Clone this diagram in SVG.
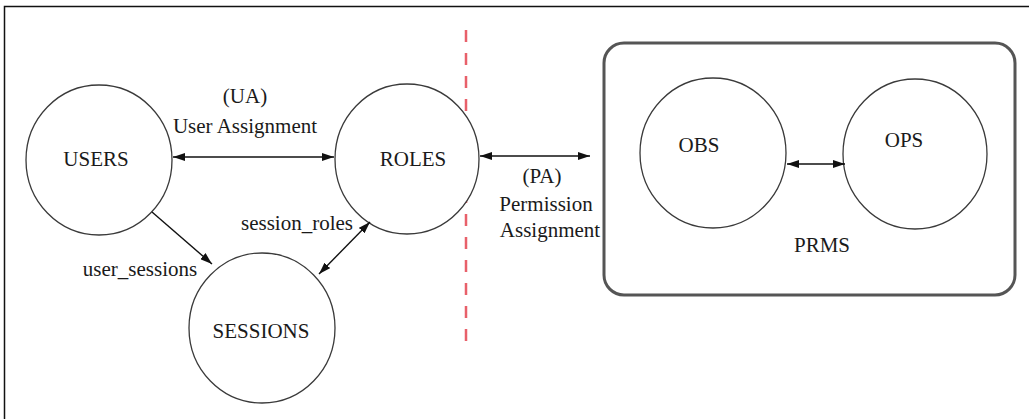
<svg xmlns="http://www.w3.org/2000/svg" width="1029" height="419" viewBox="0 0 1029 419">
  <style>
    .node { fill: #ffffff; stroke: #3a3a3a; stroke-width: 1.3; }
    .lbl { font-family: "Liberation Serif", "Times New Roman", serif; font-size: 21px; fill: #1a1a1a; text-anchor: middle; }
    .edge { stroke: #111; stroke-width: 1.4; fill: none; }
  </style>
  <defs>
    <marker id="head" viewBox="0 0 12 8" refX="12" refY="4" markerWidth="12" markerHeight="8" markerUnits="userSpaceOnUse" orient="auto-start-reverse">
      <path d="M0,0 L12,4 L0,8 Z" fill="#111"/>
    </marker>
  </defs>

  <rect width="1029" height="419" fill="#ffffff"/>
  <!-- outer frame (open at bottom and right) -->
  <path d="M4.5,419 V6.5 H1029" fill="none" stroke="#111" stroke-width="1.5"/>

  <!-- separator -->
  <line x1="466" y1="30" x2="466" y2="344" stroke="#e8606a" stroke-width="2.5" stroke-dasharray="12,11"/>

  <!-- permission container -->
  <g id="prms">
    <rect x="604" y="43" width="411" height="252" rx="20" ry="20" fill="none" stroke="#555" stroke-width="3"/>
    <text class="lbl" x="822" y="252">PRMS</text>
  </g>

  <g id="users">
    <ellipse class="node" cx="99" cy="160" rx="73" ry="75"/>
    <text class="lbl" x="96" y="166">USERS</text>
  </g>
  <g id="roles">
    <ellipse class="node" cx="407" cy="159" rx="72" ry="75"/>
    <text class="lbl" x="413" y="166">ROLES</text>
  </g>
  <g id="sessions">
    <ellipse class="node" cx="262" cy="328" rx="73" ry="75"/>
    <text class="lbl" x="261" y="338">SESSIONS</text>
  </g>
  <g id="obs">
    <ellipse class="node" cx="713" cy="153" rx="73" ry="75"/>
    <text class="lbl" x="699" y="152">OBS</text>
  </g>
  <g id="ops">
    <ellipse class="node" cx="915" cy="154" rx="72" ry="75"/>
    <text class="lbl" x="904" y="147">OPS</text>
  </g>

  <g id="connectors">
    <line class="edge" x1="173" y1="157" x2="334" y2="157" marker-start="url(#head)" marker-end="url(#head)"/>
    <line class="edge" x1="480" y1="156" x2="590" y2="156" marker-start="url(#head)" marker-end="url(#head)"/>
    <line class="edge" x1="787" y1="164" x2="845" y2="164" marker-start="url(#head)" marker-end="url(#head)"/>
    <line class="edge" x1="152" y1="212" x2="212" y2="264" marker-end="url(#head)"/>
    <line class="edge" x1="319" y1="274" x2="370" y2="222" marker-start="url(#head)" marker-end="url(#head)"/>
  </g>

  <g id="edge-labels">
    <text class="lbl" x="245" y="103">(UA)</text>
    <text class="lbl" x="245" y="133">User Assignment</text>
    <text class="lbl" x="542" y="183">(PA)</text>
    <text class="lbl" x="546" y="211">Permission</text>
    <text class="lbl" x="550" y="237">Assignment</text>
    <text class="lbl" x="297" y="230">session_roles</text>
    <text class="lbl" x="140" y="276">user_sessions</text>
  </g>
</svg>
